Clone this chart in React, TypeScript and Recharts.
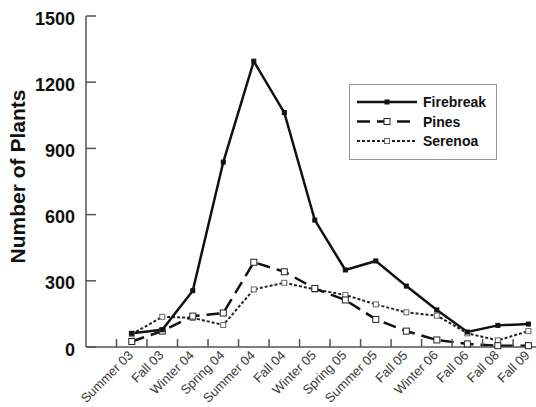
import React from 'react';
import { LineChart, Line, XAxis, YAxis, Legend } from 'recharts';

const categories = ['Summer 03', 'Fall 03', 'Winter 04', 'Spring 04', 'Summer 04', 'Fall 04', 'Winter 05', 'Spring 05', 'Summer 05', 'Fall 05', 'Winter 06', 'Fall 06', 'Fall 08', 'Fall 09'];
const firebreak = [62, 78, 255, 838, 1295, 1062, 575, 349, 390, 276, 168, 68, 98, 104];
const pines = [25, 72, 140, 154, 384, 341, 265, 213, 125, 72, 32, 14, 6, 6];
const serenoa = [58, 137, 132, 100, 261, 291, 261, 236, 193, 157, 142, 62, 30, 72];
const yTicks = [0, 300, 600, 900, 1200, 1500];

const FONT = '"Liberation Sans", Arial, sans-serif';

const data = categories.map((c, i) => ({
  x: i + 1.5,
  category: c,
  firebreak: firebreak[i],
  pines: pines[i],
  serenoa: serenoa[i],
}));
const xTicks = categories
  .flatMap((_, i) => [i + 1, i + 1.5])
  .sort((a, b) => a - b);

const XTick = (props: any) => {
  const { x, y, payload } = props;
  const v = payload.value;
  if (Number.isInteger(v)) {
    return (
      <g>
        <line x1={x} x2={x} y1={y} y2={y - 8} stroke="#555" strokeWidth={1.5} />
      </g>
    );
  }
  const label = categories[Math.round(v - 1.5)];
  const tx = x + 2;
  const ty = y + 9;
  return (
    <g>
      <text x={tx} y={ty} transform={`rotate(-45, ${tx}, ${ty})`} textAnchor="end" fontSize={13} fill="#3a3a3a" stroke="none" fontFamily={FONT}>
        {label}
      </text>
    </g>
  );
};

const YTick = (props: any) => {
  const { x, y, payload } = props;
  const ax = x + 10;
  return (
    <g>
      <line x1={ax} x2={ax + 10} y1={y} y2={y} stroke="#555" strokeWidth={1.5} />
      <text x={x - 1} y={y} dy="0.48em" textAnchor="end" fontSize={18} fontWeight="bold" fill="#111" stroke="none" fontFamily={FONT}>
        {payload.value}
      </text>
    </g>
  );
};

const squareDot = (size: number, fill: string, stroke: string, sw: number) => (p: any) => {
  const { cx, cy, index } = p;
  if (cx == null || cy == null) return <g key={`d-${index}`} />;
  return (
    <rect key={`d-${index}-${size}-${fill}`} x={cx - size / 2} y={cy - size / 2} width={size} height={size} fill={fill} stroke={stroke} strokeWidth={sw} />
  );
};

const legendItems = [
  { name: 'Firebreak', dash: undefined as string | undefined, width: 2.5, stroke: '#111', size: 4, fill: '#111', mstroke: '#111' },
  { name: 'Pines', dash: '13 7', width: 2.5, stroke: '#111', size: 6, fill: '#fff', mstroke: '#222' },
  { name: 'Serenoa', dash: '3 2', width: 2, stroke: '#222', size: 5, fill: '#fff', mstroke: '#666' },
];

const LegendContent = () => (
  <div style={{ width: 148, height: 76, border: '1.5px solid #999', boxSizing: 'border-box', background: '#fff' }}>
    <svg width={145} height={73} style={{ display: 'block' }}>
      {legendItems.map((it, i) => {
        const yy = 17 + i * 19.5;
        return (
          <g key={it.name}>
            <line x1={7} x2={67} y1={yy} y2={yy} stroke={it.stroke} strokeWidth={it.width} strokeDasharray={it.dash} />
            <rect x={37 - it.size / 2} y={yy - it.size / 2} width={it.size} height={it.size} fill={it.fill} stroke={it.mstroke} strokeWidth={1} />
            <text x={73} y={yy} dy="0.36em" fontSize={14} fontWeight="bold" fill="#111" fontFamily={FONT}>
              {it.name}
            </text>
          </g>
        );
      })}
    </svg>
  </div>
);

const YLabel = (props: any) => {
  const vb = props.viewBox || { x: 6, y: 16, width: 80, height: 331 };
  const cx = vb.x + 11;
  const cy = vb.y + vb.height / 2 - 5;
  return (
    <text x={cx} y={cy} transform={`rotate(-90, ${cx}, ${cy})`} textAnchor="middle" dominantBaseline="central" fontSize={21} fontWeight="bold" fill="#111" fontFamily={FONT}>
      Number of Plants
    </text>
  );
};

export default function App() {
  return (
    <div style={{ position: 'absolute', left: 0, top: 0, background: '#fff' }}>
      <LineChart width={536} height={407} data={data} margin={{ top: 16, right: 0, bottom: 0, left: 6 }}>
        <XAxis
          dataKey="x"
          type="number"
          domain={[0, 14.75]}
          ticks={xTicks}
          interval={0}
          allowDataOverflow
          height={60}
          tickSize={0}
          tickMargin={0}
          tickLine={false}
          axisLine={{ stroke: '#555', strokeWidth: 1.5 }}
          tick={<XTick />}
        />
        <YAxis
          type="number"
          domain={[0, 1500]}
          ticks={yTicks}
          interval={0}
          width={80}
          tickSize={0}
          tickMargin={10}
          tickLine={false}
          axisLine={{ stroke: '#555', strokeWidth: 1.5 }}
          tick={<YTick />}
          label={{ content: <YLabel /> }}
        />
        <Legend
          layout="vertical"
          align="center"
          verticalAlign="middle"
          content={<LegendContent />}
          wrapperStyle={{ position: 'absolute', left: 349, top: 84, width: 148, height: 76 }}
        />
        <Line
          dataKey="serenoa"
          name="Serenoa"
          stroke="#222"
          strokeWidth={2}
          strokeDasharray="3 2"
          isAnimationActive={false}
          dot={squareDot(5, '#fff', '#666', 1)}
          activeDot={false}
        />
        <Line
          dataKey="pines"
          name="Pines"
          stroke="#111"
          strokeWidth={2.5}
          strokeDasharray="13 7"
          isAnimationActive={false}
          dot={squareDot(6, '#fff', '#222', 1)}
          activeDot={false}
        />
        <Line
          dataKey="firebreak"
          name="Firebreak"
          stroke="#111"
          strokeWidth={2.5}
          isAnimationActive={false}
          dot={squareDot(4, '#111', '#111', 1)}
          activeDot={false}
        />
      </LineChart>
    </div>
  );
}
